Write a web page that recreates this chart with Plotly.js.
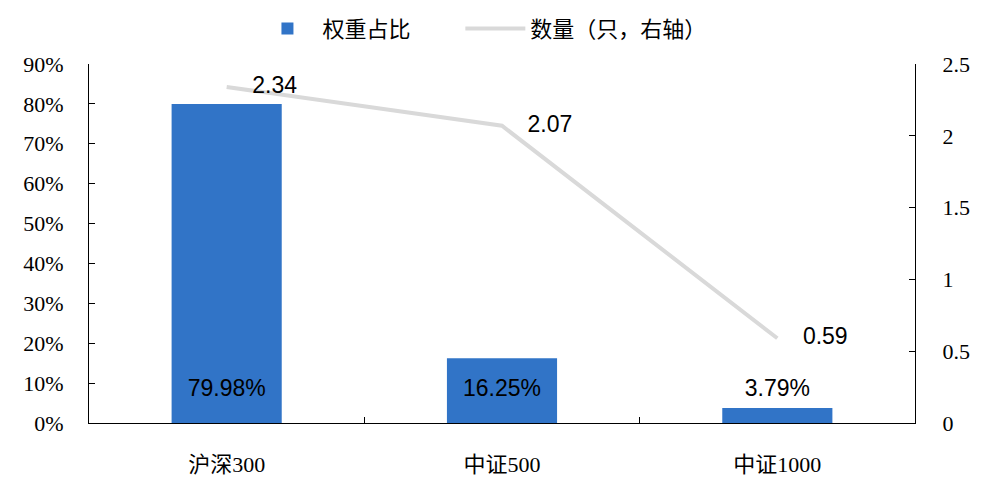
<!DOCTYPE html>
<html>
<head>
<meta charset="utf-8">
<script src="https://cdn.plot.ly/plotly-3.0.1.min.js"></script>
<style>
  html, body { margin: 0; padding: 0; background: #fff; }
  #chart { width: 990px; height: 480px; }
</style>
</head>
<body>
<div id="chart"></div>
<script>
var categories = ['沪深300', '中证500', '中证1000'];
var weights = [0.7998, 0.1625, 0.0379];
var weightLabels = ['79.98%', '16.25%', '3.79%'];
var counts = [2.34, 2.07, 0.59];
var countLabels = ['2.34', '2.07', '0.59'];

var serif = 'Liberation Serif, Times New Roman, Noto Sans CJK SC, serif';
var sans = 'Liberation Sans, Arial, sans-serif';

var trace1 = {
  x: categories,
  y: weights,
  name: '权重占比',
  type: 'bar',
  width: 0.4,
  marker: { color: '#3174C7' },
  legend: 'legend',
  hoverinfo: 'none'
};

var trace2 = {
  x: categories,
  y: counts,
  name: '数量（只，右轴）',
  type: 'scatter',
  mode: 'lines+text',
  yaxis: 'y2',
  text: countLabels,
  texttemplate: '\u00a0\u00a0\u00a0\u00a0%{text}',
  textposition: 'middle right',
  textfont: { family: sans, size: 23, color: '#000' },
  line: { color: '#D9D9D9', width: 4 },
  legend: 'legend2',
  hoverinfo: 'none'
};

// bar value labels sit near the bottom of each column
var trace3 = {
  x: categories,
  y: weights.map(function () { return 0.083; }),
  type: 'scatter',
  mode: 'text',
  text: weightLabels,
  textfont: { family: sans, size: 23, color: '#000' },
  showlegend: false,
  hoverinfo: 'none'
};

var data = [trace1, trace2, trace3];

var legendStyle = function (x) {
  return {
    orientation: 'h',
    x: x,
    xref: 'container',
    xanchor: 'left',
    y: 0.94,
    yref: 'container',
    yanchor: 'middle',
    font: { family: serif, size: 22, color: '#000' },
    itemwidth: 60
  };
};

var layout = {
  width: 990,
  height: 480,
  margin: { l: 89, r: 75, t: 64, b: 57 },
  paper_bgcolor: '#fff',
  plot_bgcolor: '#fff',
  showlegend: true,
  legend: legendStyle(0.255),
  legend2: legendStyle(0.465),
  xaxis: {
    type: 'category',
    showline: true,
    linecolor: '#000',
    linewidth: 1,
    ticks: 'inside',
    tickson: 'boundaries',
    ticklen: 6,
    tickcolor: '#000',
    showgrid: false,
    ticklabelstandoff: 22,
    tickfont: { family: serif, size: 22, color: '#000' }
  },
  yaxis: {
    range: [0, 0.9],
    dtick: 0.1,
    tickformat: '.0%',
    showline: true,
    linecolor: '#000',
    ticks: 'inside',
    ticklen: 6,
    tickcolor: '#000',
    showgrid: false,
    zeroline: false,
    ticklabelstandoff: 20,
    tickfont: { family: serif, size: 22, color: '#000' }
  },
  yaxis2: {
    overlaying: 'y',
    side: 'right',
    range: [0, 2.5],
    dtick: 0.5,
    showline: true,
    linecolor: '#000',
    ticks: 'inside',
    ticklen: 6,
    tickcolor: '#000',
    showgrid: false,
    zeroline: false,
    ticklabelstandoff: 22,
    tickfont: { family: serif, size: 22, color: '#000' }
  }
};

var config = { staticPlot: true };

Plotly.newPlot('chart', data, layout, config);
</script>
</body>
</html>
